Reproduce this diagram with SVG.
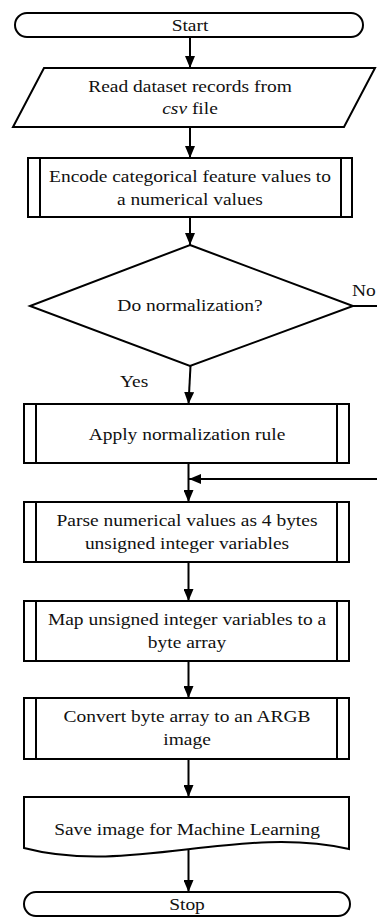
<svg xmlns="http://www.w3.org/2000/svg" width="377" height="918" viewBox="0 0 377 918" font-family="'Liberation Serif', 'Times New Roman', 'DejaVu Serif', serif">
<defs>
<style>
.s{fill:#fff;stroke:#000;stroke-width:2}
.l{fill:none;stroke:#000;stroke-width:2}
text{font-family:'Liberation Serif','Times New Roman','DejaVu Serif',serif;font-size:16.5px;fill:#111;text-anchor:middle}
text.a{text-anchor:start}
</style>
<marker id="ah" viewBox="0 0 12 10" refX="12" refY="5" markerWidth="12" markerHeight="10" markerUnits="userSpaceOnUse" orient="auto">
<path d="M0,0 L12,5 L0,10 Z" fill="#000"/>
</marker>
</defs>
<rect width="377" height="918" fill="#fff"/>
<g id="connectors">
<line class="l" x1="190" y1="37" x2="190" y2="68" marker-end="url(#ah)"/>
<line class="l" x1="190" y1="127" x2="190" y2="158" marker-end="url(#ah)"/>
<line class="l" x1="190" y1="217" x2="190" y2="245" marker-end="url(#ah)"/>
<line class="l" x1="190.5" y1="366" x2="188.5" y2="404" marker-end="url(#ah)"/>
<polyline class="l" points="353,306 380,306"/>
<line class="l" x1="380" y1="479" x2="189" y2="479" marker-end="url(#ah)"/>
<line class="l" x1="188.5" y1="463" x2="188.5" y2="502" marker-end="url(#ah)"/>
<line class="l" x1="188.5" y1="562" x2="188.5" y2="601" marker-end="url(#ah)"/>
<line class="l" x1="188.5" y1="661" x2="188.5" y2="698" marker-end="url(#ah)"/>
<line class="l" x1="188.5" y1="759" x2="188.5" y2="797" marker-end="url(#ah)"/>
<line class="l" x1="188.5" y1="850" x2="188.5" y2="892" marker-end="url(#ah)"/>
<text class="a" transform="translate(352,296) scale(1.18,1)">No</text>
<text class="a" transform="translate(120,387) scale(1.18,1)">Yes</text>
</g>
<g id="start">
<rect class="s" x="15" y="13" width="348" height="24" rx="12"/>
<text transform="translate(190,31) scale(1.18,1)">Start</text>
</g>
<g id="read">
<polygon class="s" points="44,68 375,68 344,127 13,127"/>
<text transform="translate(190,92) scale(1.18,1)">Read dataset records from</text>
<text transform="translate(190,114) scale(1.18,1)"><tspan font-style="italic">csv</tspan> file</text>
</g>
<g id="encode">
<rect class="s" x="28" y="158" width="324" height="59"/>
<line class="l" x1="40" y1="158" x2="40" y2="217"/>
<line class="l" x1="341" y1="158" x2="341" y2="217"/>
<text transform="translate(190,182) scale(1.18,1)">Encode categorical feature values to</text>
<text transform="translate(190,205) scale(1.18,1)">a numerical values</text>
</g>
<g id="decision">
<polygon class="s" points="190,245 353,306 190,366 30,306"/>
<text transform="translate(190,311) scale(1.18,1)">Do normalization?</text>
</g>
<g id="apply">
<rect class="s" x="24" y="404" width="325" height="59"/>
<line class="l" x1="36" y1="404" x2="36" y2="463"/>
<line class="l" x1="337" y1="404" x2="337" y2="463"/>
<text transform="translate(187,440) scale(1.18,1)">Apply normalization rule</text>
</g>
<g id="parse">
<rect class="s" x="24" y="502" width="325" height="60"/>
<line class="l" x1="36" y1="502" x2="36" y2="562"/>
<line class="l" x1="337" y1="502" x2="337" y2="562"/>
<text transform="translate(187,526) scale(1.18,1)">Parse numerical values as 4 bytes</text>
<text transform="translate(187,549) scale(1.18,1)">unsigned integer variables</text>
</g>
<g id="map">
<rect class="s" x="24" y="601" width="325" height="60"/>
<line class="l" x1="36" y1="601" x2="36" y2="661"/>
<line class="l" x1="337" y1="601" x2="337" y2="661"/>
<text transform="translate(187,625) scale(1.18,1)">Map unsigned integer variables to a</text>
<text transform="translate(187,648) scale(1.18,1)">byte array</text>
</g>
<g id="convert">
<rect class="s" x="24" y="698" width="325" height="61"/>
<line class="l" x1="36" y1="698" x2="36" y2="759"/>
<line class="l" x1="337" y1="698" x2="337" y2="759"/>
<text transform="translate(187,722) scale(1.18,1)">Convert byte array to an ARGB</text>
<text transform="translate(187,745) scale(1.18,1)">image</text>
</g>
<g id="save">
<path class="s" d="M24,797 H349 V849 C240,824 130,876 24,848 Z"/>
<text transform="translate(187,835) scale(1.18,1)">Save image for Machine Learning</text>
</g>
<g id="stop">
<rect class="s" x="24" y="892" width="326" height="24" rx="12"/>
<text transform="translate(187,910) scale(1.18,1)">Stop</text>
</g>
</svg>
